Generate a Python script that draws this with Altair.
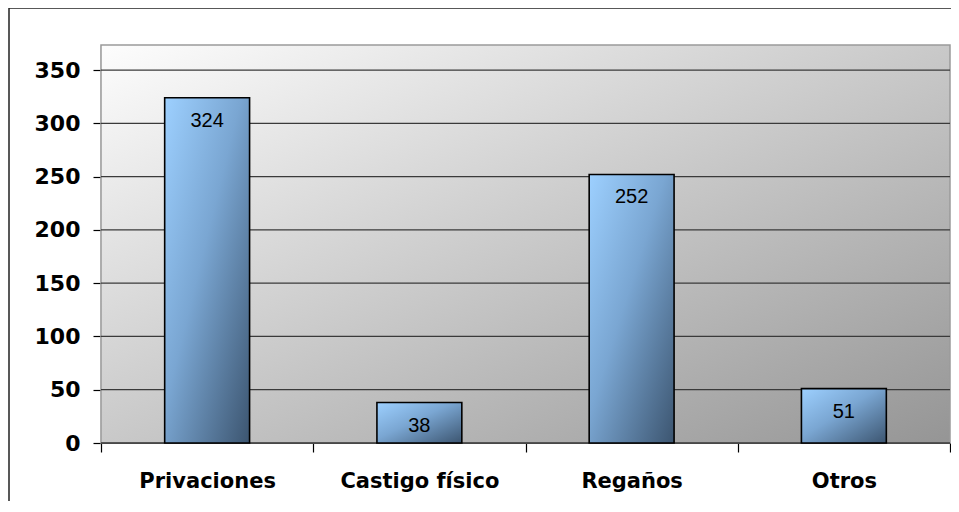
import altair as alt
import pandas as pd

categories = ["Privaciones", "Castigo físico", "Regaños", "Otros"]
values = [324, 38, 252, 51]
y_ticks = [0, 50, 100, 150, 200, 250, 300, 350]

W, H = 849, 398
df = pd.DataFrame({"cat": categories, "val": values})
ticks_df = pd.DataFrame({"t": y_ticks})

xscale = alt.Scale(domain=categories, paddingInner=0, paddingOuter=0)
yscale = alt.Scale(domain=[0, 373.5], nice=False, zero=True)

bg = alt.Chart(alt.Data(values=[{"a": 1}])).mark_rect(
    fill=alt.Gradient(gradient="linear", x1=0, y1=0, x2=1, y2=1,
                      stops=[alt.GradientStop(offset=0, color="#fdfdfd"),
                             alt.GradientStop(offset=1, color="#959595")]),
    stroke="#9a9a9a", strokeWidth=1.5
).encode(x=alt.value(0), x2=alt.value(W), y=alt.value(0), y2=alt.value(H))

grid = alt.Chart(ticks_df).mark_rule(color="#3a3a3a", strokeWidth=1.3).encode(
    y=alt.Y("t:Q", scale=yscale, title=None,
            axis=alt.Axis(values=y_ticks, grid=False, domain=True, domainColor="#000000",
                          domainWidth=1.2, tickColor="#000000", tickSize=8, tickWidth=1.2,
                          labelFont="DejaVu Sans", labelFontWeight="bold", labelFontSize=22,
                          labelColor="#000000", labelPadding=13)),
    x=alt.value(0), x2=alt.value(W)
)

bar_grad = alt.Gradient(gradient="linear", x1=0, y1=0, x2=1, y2=1,
                        stops=[alt.GradientStop(offset=0, color="#9dd0ff"),
                               alt.GradientStop(offset=0.45, color="#7aa6d2"),
                               alt.GradientStop(offset=1, color="#3c5570")])

bars = alt.Chart(df).mark_bar(fill=bar_grad, stroke="#000000", strokeWidth=1.6,
                              width=alt.RelativeBandSize(0.4)).encode(
    x=alt.X("cat:N", scale=xscale, sort=categories, title=None,
            axis=alt.Axis(labelAngle=0, tickBand="extent", domainColor="#000000",
                          domainWidth=1.2, tickColor="#000000", tickSize=9, tickWidth=1.2,
                          labelFont="DejaVu Sans", labelFontWeight="bold", labelFontSize=21,
                          labelColor="#000000", labelBaseline="alphabetic", labelPadding=35)),
    y=alt.Y("val:Q", scale=yscale)
)

labels = alt.Chart(df).mark_text(baseline="alphabetic", dy=29, font="Liberation Sans",
                                 fontSize=20, color="#000000").encode(
    x=alt.X("cat:N", scale=xscale, sort=categories),
    y=alt.Y("val:Q", scale=yscale),
    text=alt.Text("val:Q")
)

frame = alt.Chart(alt.Data(values=[{"a": 1}])).mark_rect(
    fill=None, fillOpacity=0, stroke="#222222", strokeWidth=1.5, clip=False
).encode(x=alt.value(-92), x2=alt.value(W + 60), y=alt.value(-37), y2=alt.value(H + 200))

chart = alt.layer(bg, grid, bars, labels, frame).properties(
    width=W, height=H,
    autosize=alt.AutoSizeParams(type="none"),
    padding={"left": 93, "top": 37, "right": 1, "bottom": 58},
    background="#ffffff"
).configure_view(stroke=None)

chart.save("out.html", embed_options={"renderer": "svg", "actions": False})
